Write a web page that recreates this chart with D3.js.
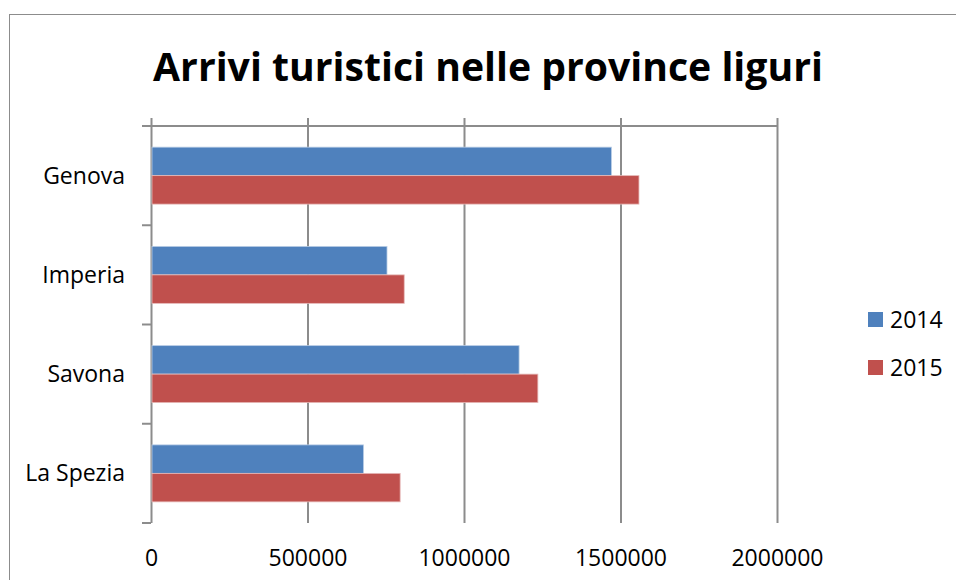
<!DOCTYPE html>
<html>
<head>
<meta charset="utf-8">
<script src="https://cdn.jsdelivr.net/npm/d3@7"></script>
<style>
  body { margin: 0; background: #fff; }
  text { font-family: "Open Sans", sans-serif; fill: #000; }
</style>
</head>
<body>
<div id="chart"></div>
<script>
// data
var provinces = ["Genova", "Imperia", "Savona", "La Spezia"];
var years = ["2014", "2015"];
var arrivi2014 = [1471000, 754000, 1176000, 679000];
var arrivi2015 = [1559000, 809000, 1236000, 796000];
var xTicks = [0, 500000, 1000000, 1500000, 2000000];

var colors = { "2014": "#4F81BD", "2015": "#C0504D" };
var edges = { "2014": "#b9cde5", "2015": "#e6b9b8" };

var width = 956, height = 580;
// note: "top" is taken by window.top, so plot* names
var plotLeft = 151, plotRight = 777, plotTop = 126, plotBottom = 523;

var svg = d3.select("#chart").append("svg")
    .attr("width", width)
    .attr("height", height);

// outer frame
svg.append("rect")
    .attr("x", 9.5).attr("y", 14.5)
    .attr("width", 960).attr("height", 600)
    .attr("fill", "none")
    .attr("stroke", "#8c8c8c");

var x = d3.scaleLinear().domain([0, 2000000]).range([plotLeft, plotRight]);

var y0 = d3.scaleBand().domain(provinces)
    .range([plotTop, plotBottom])
    .paddingInner(0.426)
    .paddingOuter(0.213);

var y1 = d3.scaleBand().domain(years).range([0, y0.bandwidth()]);

// gridlines + value labels
var xAxis = svg.append("g")
    .attr("transform", "translate(0," + plotBottom + ")")
    .call(d3.axisBottom(x)
        .tickValues(xTicks)
        .tickFormat(d3.format("d"))
        .tickSizeInner(-(plotBottom - 118))
        .tickSizeOuter(0)
        .tickPadding(27));
xAxis.select(".domain").remove();
xAxis.selectAll("line").attr("stroke", "#8c8c8c").attr("stroke-width", 2);
xAxis.selectAll("text").attr("font-size", 23).attr("font-family", "Open Sans");

// top line
svg.append("line")
    .attr("x1", plotLeft - 9).attr("x2", plotRight)
    .attr("y1", plotTop).attr("y2", plotTop)
    .attr("stroke", "#8c8c8c").attr("stroke-width", 2);

// category boundary ticks
var bounds = d3.range(provinces.length + 1).map(function(i) {
    return plotTop + i * (plotBottom - plotTop) / provinces.length;
});
svg.selectAll(".catTick").data(bounds).enter().append("line")
    .attr("class", "catTick")
    .attr("x1", plotLeft - 9).attr("x2", plotLeft)
    .attr("y1", function(d) { return d; })
    .attr("y2", function(d) { return d; })
    .attr("stroke", "#8c8c8c").attr("stroke-width", 2);

// bars
var rows = provinces.map(function(p, i) {
    return { name: p, values: [{ year: "2014", v: arrivi2014[i] }, { year: "2015", v: arrivi2015[i] }] };
});

var groups = svg.selectAll(".prov").data(rows).enter().append("g")
    .attr("class", "prov")
    .attr("transform", function(d) { return "translate(0," + y0(d.name) + ")"; });

groups.selectAll("rect").data(function(d) { return d.values; }).enter().append("rect")
    .attr("x", x(0) + 1)
    .attr("y", function(d) { return y1(d.year); })
    .attr("width", function(d) { return x(d.v) - x(0) - 1; })
    .attr("height", y1.bandwidth())
    .attr("fill", function(d) { return colors[d.year]; })
    .attr("stroke", function(d) { return edges[d.year]; })
    .attr("stroke-width", 0.8);

// category labels
svg.selectAll(".catLabel").data(provinces).enter().append("text")
    .attr("class", "catLabel")
    .attr("x", 125)
    .attr("y", function(d) { return y0(d) + y0.bandwidth() / 2; })
    .attr("dy", "0.35em")
    .attr("text-anchor", "end")
    .attr("font-size", 23)
    .text(function(d) { return d; });

// legend
var legend = svg.selectAll(".legend").data(years).enter().append("g")
    .attr("class", "legend")
    .attr("transform", function(d, i) { return "translate(868," + (312 + i * 48) + ")"; });
legend.append("rect")
    .attr("width", 15).attr("height", 15)
    .attr("fill", function(d) { return colors[d]; });
legend.append("text")
    .attr("x", 22).attr("y", 16)
    .attr("font-size", 23)
    .text(function(d) { return d; });

// title, fitted to the original width
var title = svg.append("text")
    .attr("x", 488).attr("y", 81)
    .attr("text-anchor", "middle")
    .attr("font-weight", "bold")
    .attr("font-size", 44)
    .text("Arrivi turistici nelle province liguri");
var tw = title.node().getComputedTextLength();
title.attr("font-size", 44 * 670 / tw);
</script>
</body>
</html>
